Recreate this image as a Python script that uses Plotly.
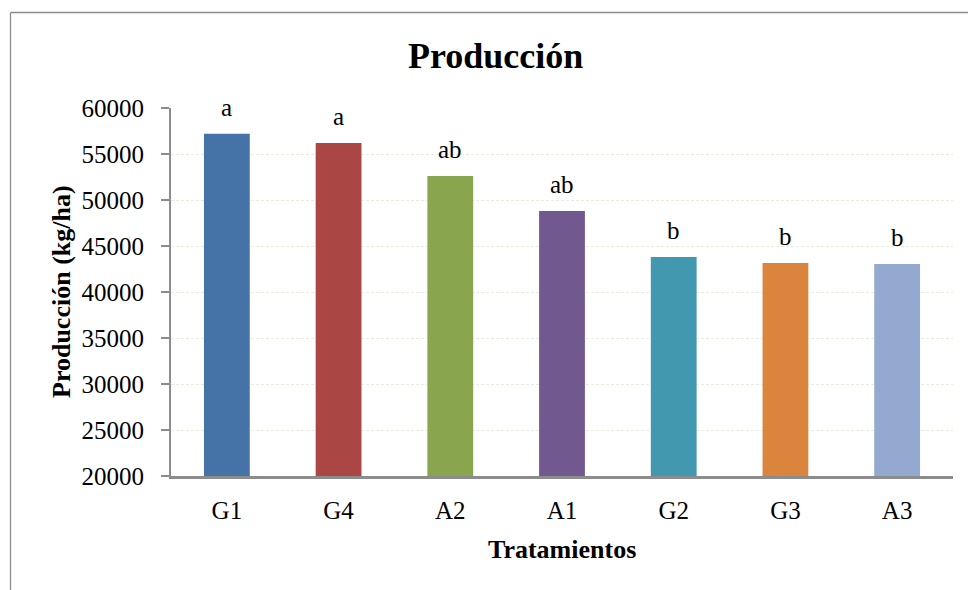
import plotly.graph_objects as go

# Tratamientos y producción media (kg/ha)
tratamientos = ["G1", "G4", "A2", "A1", "G2", "G3", "A3"]
produccion = [57200, 56200, 52600, 48800, 43800, 43150, 43050]
letras = ["a", "a", "ab", "ab", "b", "b", "b"]
colores = ["#4572A7", "#AA4643", "#89A54E", "#71588F", "#4198AF", "#DB843D", "#93A9CF"]

y_ticks = [20000, 25000, 30000, 35000, 40000, 45000, 50000, 55000, 60000]

FONT = "Liberation Serif, Times New Roman, serif"
W, H = 968, 590
L, R, T, B = 171, 15, 108, 114
pw, ph = W - L - R, H - T - B


def px_to_paper_x(px):
    return (px - L) / pw


def px_to_paper_y(py):
    return (H - B - py) / ph


fig = go.Figure()
fig.add_trace(go.Bar(
    x=tratamientos,
    y=produccion,
    marker=dict(color=colores, line=dict(width=0)),
    width=0.41,
    showlegend=False,
))

annotations = []
for t, v, l in zip(tratamientos, produccion, letras):
    annotations.append(dict(
        x=t, y=v, xref="x", yref="y", text=l, showarrow=False,
        yanchor="bottom", yshift=11,
        font=dict(family=FONT, size=25, color="#000000"),
    ))

# Título del gráfico
annotations.append(dict(
    x=px_to_paper_x(495), y=px_to_paper_y(56), xref="paper", yref="paper",
    text="<b>Producción</b>", showarrow=False, xanchor="center", yanchor="middle",
    font=dict(family=FONT, size=36, color="#000000"),
))
# Títulos de ejes
annotations.append(dict(
    x=px_to_paper_x(562), y=px_to_paper_y(549), xref="paper", yref="paper",
    text="<b>Tratamientos</b>", showarrow=False, xanchor="center", yanchor="middle",
    font=dict(family=FONT, size=26, color="#000000"),
))
annotations.append(dict(
    x=px_to_paper_x(61), y=0.5, xref="paper", yref="paper",
    text="<b>Producción (kg/ha)</b>", showarrow=False, textangle=-90,
    xanchor="center", yanchor="middle",
    font=dict(family=FONT, size=26, color="#000000"),
))

# Marco exterior del área del gráfico
shapes = [
    dict(type="line", xref="paper", yref="paper",
         x0=px_to_paper_x(10.5), x1=px_to_paper_x(1100),
         y0=px_to_paper_y(12.5), y1=px_to_paper_y(12.5),
         line=dict(color="#8C8C8C", width=1.3)),
    dict(type="line", xref="paper", yref="paper",
         x0=px_to_paper_x(10.5), x1=px_to_paper_x(10.5),
         y0=px_to_paper_y(12.5), y1=px_to_paper_y(800),
         line=dict(color="#8C8C8C", width=1.3)),
]

fig.update_layout(
    width=W, height=H,
    margin=dict(l=L, r=R, t=T, b=B, autoexpand=False),
    paper_bgcolor="#FFFFFF",
    plot_bgcolor="#FFFFFF",
    font=dict(family=FONT, size=25, color="#000000"),
    bargap=0.59,
    annotations=annotations,
    shapes=shapes,
)

fig.update_xaxes(
    showline=True, linecolor="#8C8C8C", linewidth=2.5,
    ticks="", showgrid=False,
    tickfont=dict(family=FONT, size=25, color="#000000"),
    ticklabelstandoff=10,
)
fig.update_yaxes(
    range=[20000, 60000],
    tickvals=y_ticks,
    ticktext=[str(v) for v in y_ticks],
    showline=True, linecolor="#8C8C8C", linewidth=2,
    ticks="outside", ticklen=8, tickcolor="#8C8C8C", tickwidth=1.5,
    showgrid=True, gridcolor="#ECECDC", gridwidth=1, griddash="3px,2px",
    zeroline=False,
    tickfont=dict(family=FONT, size=25, color="#000000"),
    ticklabelstandoff=12,
)

fig.write_html("out.html")
